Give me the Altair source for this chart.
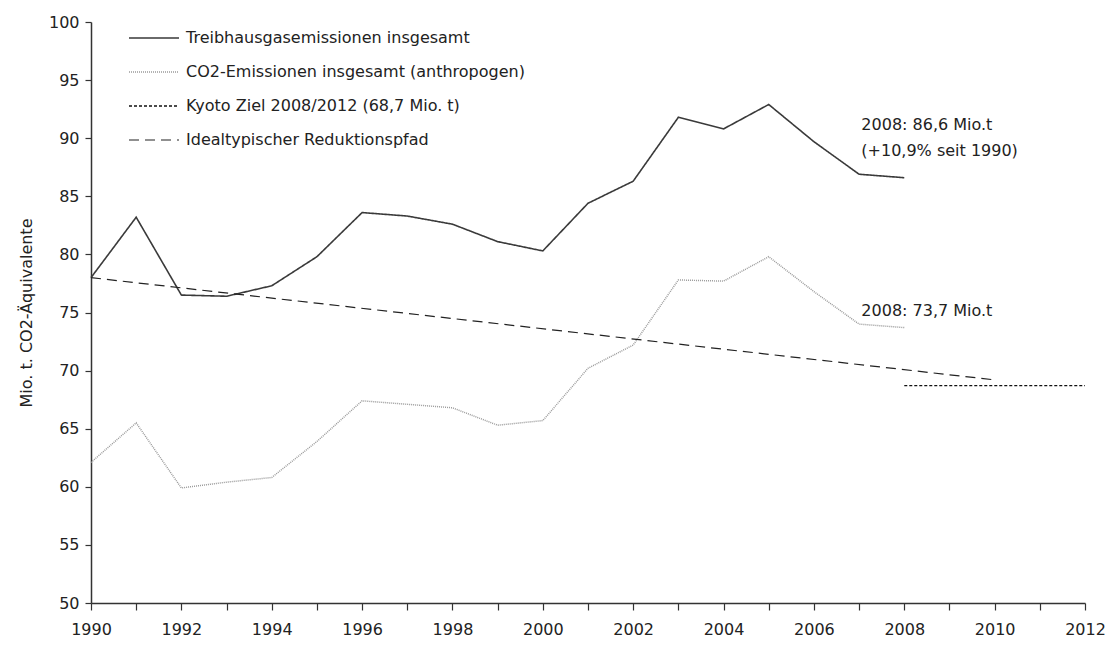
import altair as alt
import pandas as pd

years = list(range(1990, 2009))
treibhaus = [78.0, 83.2, 76.5, 76.4, 77.3, 79.8, 83.6, 83.3, 82.6, 81.1, 80.3,
             84.4, 86.3, 91.8, 90.8, 92.9, 89.7, 86.9, 86.6]
co2 = [62.1, 65.5, 59.9, 60.4, 60.8, 63.9, 67.4, 67.1, 66.8, 65.3, 65.7,
       70.2, 72.2, 77.8, 77.7, 79.8, 76.8, 74.0, 73.7]
kyoto_years = [2008, 2012]
kyoto_vals = [68.7, 68.7]
path_years = [1990, 2010]
path_vals = [78.0, 69.2]

series_names = [
    "Treibhausgasemissionen insgesamt",
    "CO2-Emissionen insgesamt (anthropogen)",
    "Kyoto Ziel 2008/2012 (68,7 Mio. t)",
    "Idealtypischer Reduktionspfad",
]

ann_x = [2007.05, 2007.05, 2007.05]
ann_y = [91.1, 88.9, 75.1]
ann_text = ["2008: 86,6 Mio.t", "(+10,9% seit 1990)", "2008: 73,7 Mio.t"]

rows = []
for y, v in zip(years, treibhaus):
    rows.append({"year": y, "value": v, "series": series_names[0]})
for y, v in zip(years, co2):
    rows.append({"year": y, "value": v, "series": series_names[1]})
for y, v in zip(kyoto_years, kyoto_vals):
    rows.append({"year": y, "value": v, "series": series_names[2]})
for y, v in zip(path_years, path_vals):
    rows.append({"year": y, "value": v, "series": series_names[3]})
df = pd.DataFrame(rows)

ann = pd.DataFrame({"x": ann_x, "y": ann_y, "text": ann_text})

FONT = "DejaVu Sans"

x_scale = alt.Scale(domain=[1990, 2012], nice=False)
y_scale = alt.Scale(domain=[50, 100], nice=False)

legend_common = dict(title=None, orient="none", legendX=37, legendY=-10,
                     symbolType="stroke", symbolSize=2500,
                     labelFontSize=16, labelFont=FONT, labelColor="#222",
                     labelLimit=0, rowPadding=-20, labelOffset=6)

lines = alt.Chart(df).mark_line(clip=False).encode(
    x=alt.X("year:Q", scale=x_scale,
            axis=alt.Axis(values=list(range(1990, 2013)), format="d",
                          labelExpr="datum.value % 2 == 0 ? datum.label : ''",
                          title=None, grid=False, tickSize=7, labelFlush=False,
                          labelPadding=11, labelFontSize=16)),
    y=alt.Y("value:Q", scale=y_scale,
            axis=alt.Axis(values=list(range(50, 101, 5)), title="Mio. t. CO2-Äquivalente",
                          grid=False, tickSize=6, labelPadding=6, labelFontSize=16,
                          labelFlush=False,
                          titleFontSize=16, titleFontWeight="normal", titlePadding=14)),
    color=alt.Color("series:N",
                    scale=alt.Scale(domain=series_names,
                                    range=["#3a3a3a", "#9a9a9a", "#111111", "#222222"]),
                    legend=alt.Legend(**legend_common)),
    strokeDash=alt.StrokeDash("series:N",
                              scale=alt.Scale(domain=series_names,
                                              range=[[1, 0], [1, 1], [3, 2], [10, 6]]),
                              legend=alt.Legend(**legend_common)),
    strokeWidth=alt.StrokeWidth("series:N",
                                scale=alt.Scale(domain=series_names,
                                                range=[1.6, 1.2, 1.2, 1.9]),
                                legend=None),
    order="year:Q",
)

texts = alt.Chart(ann).mark_text(align="left", baseline="middle", fontSize=16,
                                 font=FONT, color="#222").encode(
    x=alt.X("x:Q", scale=x_scale),
    y=alt.Y("y:Q", scale=y_scale),
    text="text:N",
)

chart = alt.layer(lines, texts).properties(
    width=994, height=581,
    autosize=alt.AutoSizeParams(type="none"),
    padding={"left": 83, "top": 14, "right": 20, "bottom": 37},
).configure_view(stroke=None).configure_axis(
    labelFont=FONT, titleFont=FONT, labelColor="#222", titleColor="#222",
    domainColor="#333", tickColor="#333", domainWidth=1.5, tickWidth=1.2,
)

chart.save("out.html", embed_options={"renderer": "svg", "actions": False})
